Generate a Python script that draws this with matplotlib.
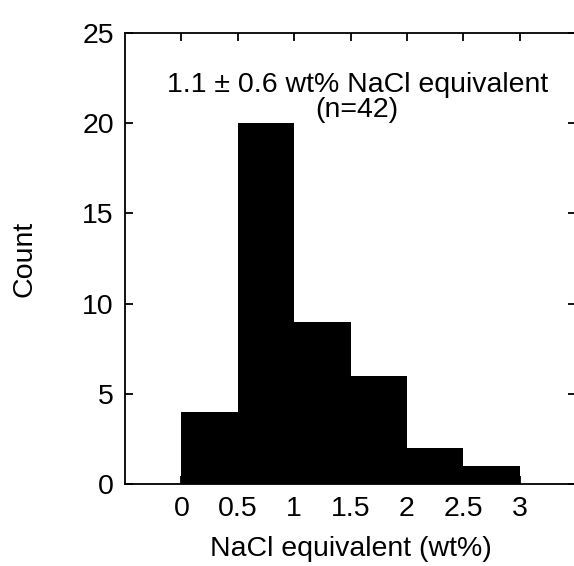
import numpy as np
import matplotlib
matplotlib.use("Agg")
import matplotlib.pyplot as plt

plt.rcParams['font.family'] = ['Liberation Sans', 'DejaVu Sans']

# Данные гистограммы
bin_edges = [0, 0.5, 1.0, 1.5, 2.0, 2.5, 3.0]
counts = [4, 20, 9, 6, 2, 1]
xticks = [0, 0.5, 1, 1.5, 2, 2.5, 3]
xticklabels = ['0', '0.5', '1', '1.5', '2', '2.5', '3']
yticks = [0, 5, 10, 15, 20, 25]

W, H = 574, 566
fs = 20.5
fig = plt.figure(figsize=(W / 100, H / 100), dpi=100)
ax = fig.add_axes([125 / W, 1 - 484 / H, (576 - 125) / W, (484 - 33) / H])

ax.stairs(counts, bin_edges, fill=True, color='black', linewidth=0)

ax.set_xlim(-0.5, 3.5)
ax.set_ylim(0, 25)
ax.set_xticks(xticks)
ax.set_xticklabels(xticklabels)
ax.set_yticks(yticks)
ax.tick_params(direction='in', length=6, width=1.3, top=True, right=True,
               labelsize=fs, colors='black')
ax.tick_params(axis='x', pad=9)
ax.tick_params(axis='y', pad=8)
for s in ax.spines.values():
    s.set_linewidth(1.3)

ax.set_xlabel('NaCl equivalent (wt%)', fontsize=fs, labelpad=10)
ax.set_ylabel('Count', fontsize=fs, labelpad=32)

ax.text(1.56, 21.45, '1.1 \u00b1 0.6 wt% NaCl equivalent\n(n=42)', ha='center', va='center',
        fontsize=fs, linespacing=0.95)

fig.savefig('out.png', dpi=100)
